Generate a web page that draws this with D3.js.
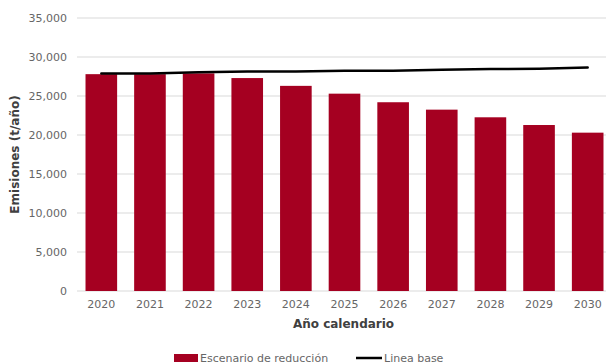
<!DOCTYPE html>
<html>
<head>
<meta charset="utf-8">
<script src="https://cdn.jsdelivr.net/npm/d3@7"></script>
<style>
  body { margin: 0; background: #fff; }
  text { font-family: "DejaVu Sans", "Noto Sans", sans-serif; }
</style>
</head>
<body>
<div id="chart"></div>
<script>
var years = ["2020","2021","2022","2023","2024","2025","2026","2027","2028","2029","2030"];
var reduccion = [27800, 27800, 27900, 27300, 26300, 25300, 24200, 23250, 22270, 21280, 20300];
var lineaBase = [27900, 27900, 28050, 28150, 28150, 28250, 28250, 28350, 28450, 28500, 28650];
var yTicks = [0, 5000, 10000, 15000, 20000, 25000, 30000, 35000];

var width = 606, height = 364;
var x0 = 77, x1 = 612, yTop = 18, yBottom = 291;

var svg = d3.select("#chart").append("svg")
    .attr("width", width)
    .attr("height", height);

var xScale = d3.scaleBand().domain(years).range([x0, x1]).paddingInner(0.35).paddingOuter(0.175);
var yScale = d3.scaleLinear().domain([0, 35000]).range([yBottom, yTop]);

// gridlines
svg.append("g").selectAll("line")
    .data(yTicks)
  .enter().append("line")
    .attr("x1", x0).attr("x2", width)
    .attr("y1", function(d) { return yScale(d); })
    .attr("y2", function(d) { return yScale(d); })
    .attr("stroke", "#d9d9d9")
    .attr("stroke-width", 1);

// y axis labels
var yAxis = d3.axisLeft(yScale).tickValues(yTicks).tickSize(0).tickPadding(10)
    .tickFormat(d3.format(","));
var gy = svg.append("g").attr("transform", "translate(" + x0 + ",0)").call(yAxis);
gy.select(".domain").remove();
gy.selectAll("text").attr("fill", "#666").style("font-size", "11px");

// bars
svg.append("g").selectAll("rect")
    .data(reduccion)
  .enter().append("rect")
    .attr("x", function(d, i) { return xScale(years[i]); })
    .attr("width", xScale.bandwidth())
    .attr("y", function(d) { return yScale(d); })
    .attr("height", function(d) { return yBottom - yScale(d); })
    .attr("fill", "#a50021");

// line
var line = d3.line()
    .x(function(d, i) { return xScale(years[i]) + xScale.bandwidth() / 2; })
    .y(function(d) { return yScale(d); });
svg.append("path")
    .datum(lineaBase)
    .attr("d", line)
    .attr("fill", "none")
    .attr("stroke", "#000")
    .attr("stroke-width", 2.5)
    .attr("stroke-linecap", "round");

// x axis
var xAxis = d3.axisBottom(xScale).tickSize(0).tickPadding(9);
var gx = svg.append("g").attr("transform", "translate(0," + yBottom + ")").call(xAxis);
gx.select(".domain").remove();
gx.selectAll("text").attr("fill", "#666").style("font-size", "11px");

// axis titles
svg.append("text")
    .attr("x", (x0 + width) / 2 + 2)
    .attr("y", 328)
    .attr("text-anchor", "middle")
    .attr("fill", "#404040")
    .style("font-size", "12px")
    .style("font-weight", "bold")
    .text("Año calendario");

svg.append("text")
    .attr("transform", "translate(19," + (yTop + yBottom) / 2 + ") rotate(-90)")
    .attr("text-anchor", "middle")
    .attr("fill", "#404040")
    .style("font-size", "12px")
    .style("font-weight", "bold")
    .text("Emisiones (t/año)");

// legend
var lg = svg.append("g");
lg.append("rect").attr("x", 174).attr("y", 354).attr("width", 24).attr("height", 8).attr("fill", "#a50021");
lg.append("text").attr("x", 200).attr("y", 362).attr("fill", "#666").style("font-size", "11px")
    .text("Escenario de reducción");
lg.append("line").attr("x1", 356).attr("x2", 382).attr("y1", 358).attr("y2", 358)
    .attr("stroke", "#000").attr("stroke-width", 2.5);
lg.append("text").attr("x", 384).attr("y", 362).attr("fill", "#666").style("font-size", "11px")
    .text("Linea base");
</script>
</body>
</html>
